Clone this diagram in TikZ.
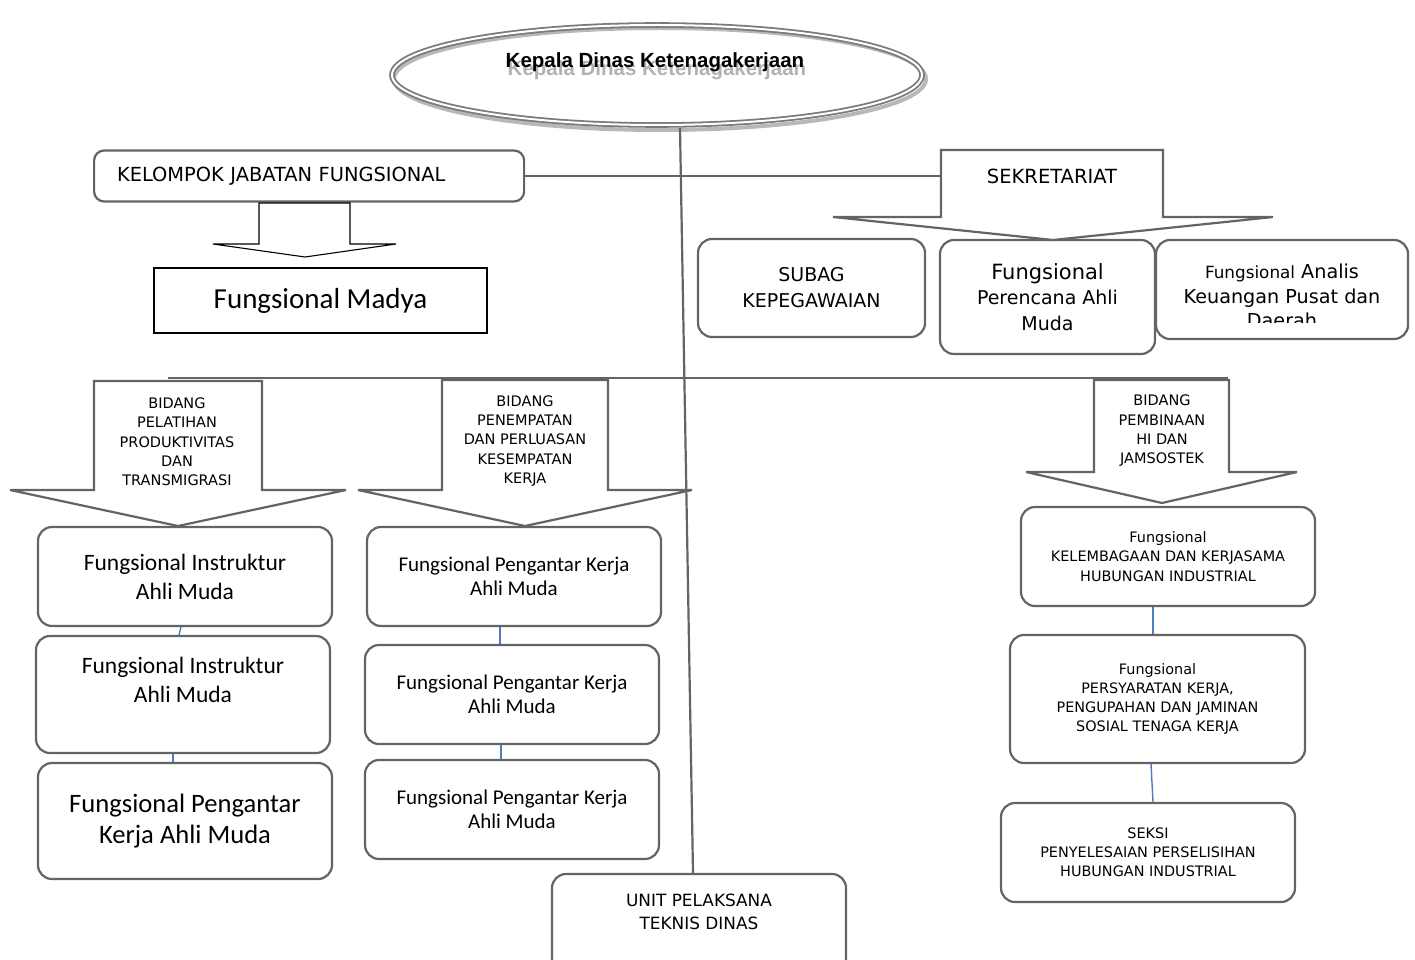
\documentclass[tikz,border=0pt]{standalone}
\usepackage{fontspec}
\setmainfont{DejaVu Sans}
\newfontfamily\calibri{Carlito}
\newfontfamily\arial{Liberation Sans}
\usetikzlibrary{shapes.geometric}
\definecolor{linegray}{HTML}{646464}
\definecolor{linkblue}{HTML}{4A7EBB}

\begin{document}
\begin{tikzpicture}[x=1pt,y=-1pt,
        bxgray/.style={draw=linegray,line width=2.2pt,rounded corners=14pt,fill=white,align=center,inner sep=0pt},
        bxarrow/.style={draw=linegray,line width=2.2pt,fill=white,miter limit=2},
        conn/.style={draw=linegray,line width=2.2pt},
        link/.style={draw=linkblue,line width=1.4pt},
        txsmall/.style={font=\fontsize{14.5}{19.3}\selectfont,align=center},
        txcaps/.style={font=\fontsize{14.4}{19.2}\selectfont},
        txfung/.style={font=\calibri\fontsize{21}{24.5}\selectfont}
      ]

      \useasboundingbox (0,0) rectangle (1415,960);
      \clip (0,0) rectangle (1415,960);

      % head of the office
      \node[ellipse,draw=black!28,line width=4pt,minimum width=532,minimum height=102] (kadisshadow) at (660,79) {};
      \node[ellipse,draw=black!52,line width=1.8pt,double=white,double distance=2pt,minimum width=530,minimum height=100] (kadis) at (657,75) {};
      \node[font=\arial\bfseries\fontsize{20.5}{24}\selectfont,text=black!30] (kadisrefl) at (657,70) {Kepala Dinas Ketenagakerjaan};
      \node[font=\arial\bfseries\fontsize{20.5}{24}\selectfont] (kadistxt) at (655,62) {Kepala Dinas Ketenagakerjaan};

      \node[bxgray,minimum width=294,minimum height=100,text depth=25pt,font=\fontsize{16.9}{23}\selectfont] (upt) at (699,924) {UNIT PELAKSANA\\TEKNIS DINAS};

      \coordinate (vtop) at (680,128);
      \draw[conn] (vtop) -- ([xshift=-6pt]upt.north);

      % fungsional group and secretariat
      \node[bxgray,rounded corners=10pt,anchor=west,minimum width=430,minimum height=51,text width=384,inner xsep=23,align=left,font=\fontsize{19.4}{23}\selectfont] (kjf) at (93,176) {KELOMPOK JABATAN FUNGSIONAL};
      \draw[fill=white,draw=black,line width=1.1pt] (259,203) -- (350,203) -- (350,244) -- (396,244) -- (305,257) -- (213,244) -- (259,244) -- cycle;
      \node[draw=black,line width=1.3pt,minimum width=333,minimum height=65,font=\calibri\fontsize{29}{34}\selectfont] (madya) at (320.5,300.5) {Fungsional Madya};

      \coordinate (sekL) at (941,175);
      \draw[conn] (kjf.east) -- (kjf.east -| sekL);

      \node[bxgray,minimum width=227,minimum height=98,font=\fontsize{19}{26}\selectfont] (subag) at (811.5,288) {SUBAG\\KEPEGAWAIAN};
      \node[bxgray,minimum width=215,minimum height=114,font=\fontsize{19}{25.5}\selectfont] (perencana) at (1047.5,297) {{\fontsize{21}{26}\selectfont Fungsional}\\Perencana Ahli\\Muda};
      \node[bxgray,minimum width=252,minimum height=99] (analis) at (1282,289.5) {};
      \begin{scope}
        \clip (1160,244) rectangle (1404,322);
        \node[font=\fontsize{19.2}{24.5}\selectfont,align=center] (analistxt) at (1282,296) {{\fontsize{16.8}{20}\selectfont Fungsional} Analis\\Keuangan Pusat dan\\Daerah};
      \end{scope}

      \draw[bxarrow] (941,150) -- (1163,150) -- (1163,217) -- (1273,217) -- (1053,240) -- (833,217) -- (941,217) -- cycle;
      \node[font=\fontsize{19.5}{23}\selectfont] (sek) at (1052,176) {SEKRETARIAT};

      % bidang
      \coordinate (busL) at (168,378);
      \coordinate (busR) at (1228,378);
      \draw[conn] (busL) -- (busR);

      \draw[bxarrow] (94,381) -- (262,381) -- (262,490) -- (346,490) -- (178,526) -- (10,490) -- (94,490) -- cycle;
      \draw[bxarrow] (442,380) -- (608,380) -- (608,490) -- (692,490) -- (525,526) -- (358,490) -- (442,490) -- cycle;
      \draw[bxarrow] (1094,380) -- (1229,380) -- (1229,472) -- (1297,472) -- (1162,503) -- (1026,472) -- (1094,472) -- cycle;
      \node[txsmall] (bidpel) at (177,442) {BIDANG\\PELATIHAN\\PRODUKTIVITAS\\DAN\\TRANSMIGRASI};
      \node[txsmall] (bidpen) at (525,441) {BIDANG\\PENEMPATAN\\DAN PERLUASAN\\KESEMPATAN\\KERJA};
      \node[txsmall] (bidhi) at (1162,431) {BIDANG\\PEMBINAAN\\HI DAN\\JAMSOSTEK};

      % left column
      \node[bxgray,minimum width=294,minimum height=99,font=\calibri\fontsize{23.5}{29}\selectfont] (instr1) at (185,576.5) {Fungsional Instruktur\\Ahli Muda};
      \node[bxgray,minimum width=294,minimum height=117,text depth=30pt,font=\calibri\fontsize{23.5}{29}\selectfont] (instr2) at (183,694.5) {Fungsional Instruktur\\Ahli Muda};
      \node[bxgray,minimum width=294,minimum height=116,font=\calibri\fontsize{26.6}{31}\selectfont] (pengl) at (185,821) {Fungsional Pengantar\\Kerja Ahli Muda};
      \draw[link] ([xshift=-4pt]instr1.south) -- ([xshift=-4pt]instr2.north);
      \draw[link] ([xshift=-10pt]instr2.south) -- ([xshift=-12pt]pengl.north);

      % middle column
      \node[bxgray,minimum width=294,minimum height=99,txfung] (peng1) at (514,576.5) {Fungsional Pengantar Kerja\\Ahli Muda};
      \node[bxgray,minimum width=294,minimum height=99,txfung] (peng2) at (512,694.5) {Fungsional Pengantar Kerja\\Ahli Muda};
      \node[bxgray,minimum width=294,minimum height=99,txfung] (peng3) at (512,809.5) {Fungsional Pengantar Kerja\\Ahli Muda};
      \draw[link] ([xshift=-14pt]peng1.south) -- ([xshift=-12pt]peng2.north);
      \draw[link] ([xshift=-11pt]peng2.south) -- ([xshift=-11pt]peng3.north);

      % right column
      \node[bxgray,minimum width=294,minimum height=99,txcaps] (lembaga) at (1168,556.5) {Fungsional\\KELEMBAGAAN DAN KERJASAMA\\HUBUNGAN INDUSTRIAL};
      \node[bxgray,minimum width=295,minimum height=128,txcaps] (syarat) at (1157.5,699) {Fungsional\\PERSYARATAN KERJA,\\PENGUPAHAN DAN JAMINAN\\SOSIAL TENAGA KERJA};
      \node[bxgray,minimum width=294,minimum height=99,txcaps] (seksi) at (1148,852.5) {SEKSI\\PENYELESAIAN PERSELISIHAN\\HUBUNGAN INDUSTRIAL};
      \draw[link] ([xshift=-15pt]lembaga.south) -- ([xshift=-4.5pt]syarat.north);
      \draw[link] ([xshift=-6.5pt]syarat.south) -- ([xshift=5pt]seksi.north);

    \end{tikzpicture}
\end{document}
